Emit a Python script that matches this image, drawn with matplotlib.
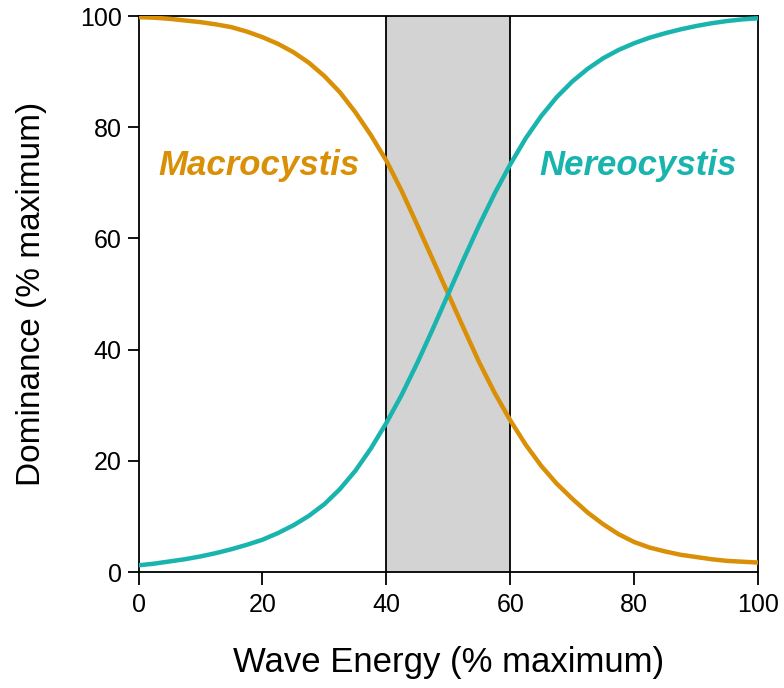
import numpy as np
import matplotlib.pyplot as plt

plt.rcParams['font.family'] = ['Liberation Sans', 'DejaVu Sans']

# Wave energy (% maximum)
wave = [0, 2.5, 5, 7.5, 10, 12.5, 15, 17.5, 20, 22.5, 25, 27.5, 30, 32.5,
        35, 37.5, 40, 42.5, 45, 47.5, 50, 52.5, 55, 57.5, 60, 62.5, 65,
        67.5, 70, 72.5, 75, 77.5, 80, 82.5, 85, 87.5, 90, 92.5, 95, 97.5, 100]
# Dominance (% maximum)
macro = [99.8, 99.7, 99.5, 99.2, 98.9, 98.5, 98.0, 97.2, 96.2, 95.0, 93.5,
         91.6, 89.2, 86.3, 82.7, 78.6, 74.0, 68.5, 62.4, 56.2, 50.0, 43.8,
         37.7, 32.2, 27.3, 22.9, 19.1, 15.9, 13.2, 10.7, 8.6, 6.8, 5.4,
         4.4, 3.7, 3.1, 2.7, 2.3, 2.0, 1.85, 1.7]
nereo = [1.2, 1.5, 1.9, 2.3, 2.8, 3.4, 4.1, 4.9, 5.8, 7.0, 8.4,
         10.1, 12.2, 14.9, 18.2, 22.2, 26.8, 31.9, 37.6, 43.7, 50.0, 56.3,
         62.4, 68.1, 73.3, 78.0, 82.0, 85.4, 88.2, 90.5, 92.4, 93.9, 95.1,
         96.1, 96.9, 97.6, 98.2, 98.7, 99.1, 99.4, 99.6]
band = [40, 60]

orange = '#d98f06'
teal = '#1ab4ae'

fig = plt.figure(figsize=(7.84, 6.88), dpi=100)
ax = fig.add_axes([0.1767, 0.1686, 0.7901, 0.8081])

ax.axvspan(band[0], band[1], facecolor='#d3d3d3', edgecolor='none', zorder=0)
for b in band:
    ax.axvline(b, color='black', lw=1.3, zorder=1)

ax.plot(wave, macro, color=orange, lw=3.2, zorder=3)
ax.plot(wave, nereo, color=teal, lw=3.2, zorder=3)

ax.text(19.4, 73.2, 'Macrocystis', color=orange, fontsize=25, fontweight='bold',
        fontstyle='italic', ha='center', va='center')
ax.text(80.6, 73.2, 'Nereocystis', color=teal, fontsize=25, fontweight='bold',
        fontstyle='italic', ha='center', va='center')

ax.set_xlim(0, 100)
ax.set_ylim(0, 100)
ax.set_xticks([0, 20, 40, 60, 80, 100])
ax.set_yticks([0, 20, 40, 60, 80, 100])
ax.tick_params(axis='x', direction='out', length=9, width=1.3, labelsize=18, pad=6)
ax.tick_params(axis='y', direction='out', length=8, width=1.3, labelsize=18, pad=4)
for s in ax.spines.values():
    s.set_linewidth(1.3)

ax.set_xlabel('Wave Energy (% maximum)', fontsize=25, labelpad=21)
ax.set_ylabel('Dominance (% maximum)', fontsize=24, labelpad=24)

fig.savefig('out.png', dpi=100)
